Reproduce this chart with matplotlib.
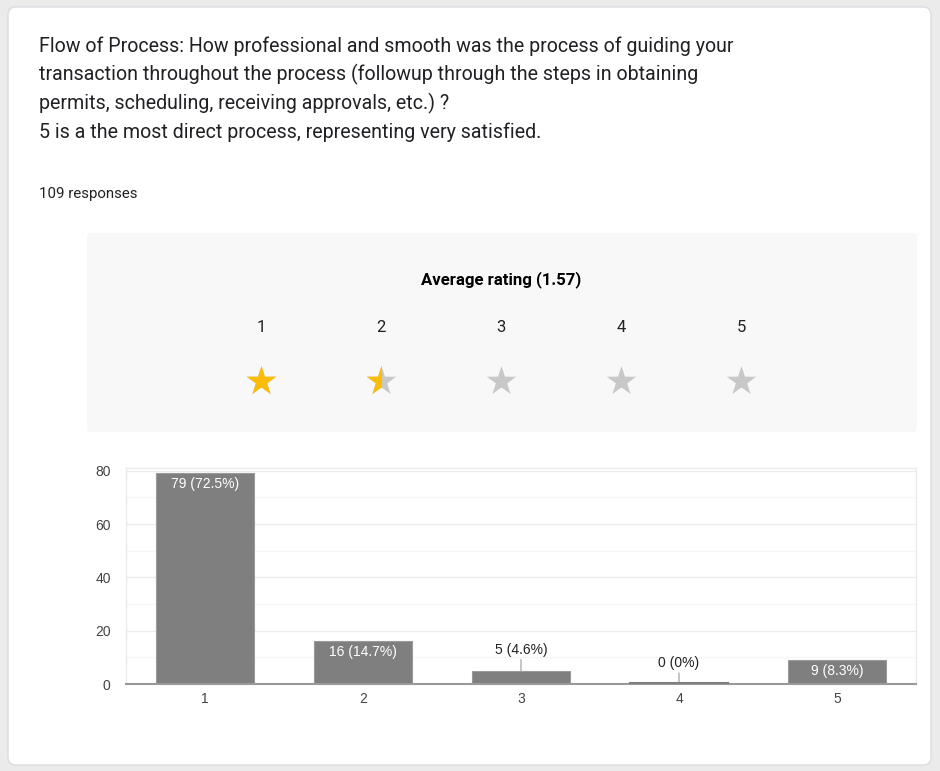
import matplotlib
matplotlib.use("Agg")
import matplotlib.pyplot as plt
from matplotlib.patches import FancyBboxPatch, Rectangle
from matplotlib.ticker import MultipleLocator

# ---- data ----
title_lines = [
    "Flow of Process: How professional and smooth was the process of guiding your",
    "transaction throughout the process (followup through the steps in obtaining",
    "permits, scheduling, receiving approvals, etc.) ?",
    "5 is a the most direct process, representing very satisfied.",
]
responses_text = "109 responses"
average_rating = 1.57
rating_levels = [1, 2, 3, 4, 5]
star_fill = [1.0, 0.5, 0.0, 0.0, 0.0]
counts = [79, 16, 5, 0, 9]
percents = ["72.5%", "14.7%", "4.6%", "0%", "8.3%"]
y_ticks = [0, 20, 40, 60, 80]

W, H = 940, 771
fig = plt.figure(figsize=(W / 100, H / 100), dpi=100)
fig.patch.set_facecolor("#ebebeb")
plt.rcParams["font.family"] = ["Roboto", "DejaVu Sans"]
CHART_FONT = ["Liberation Sans", "DejaVu Sans"]

# overlay axes in pixel coordinates (y downward)
ov = fig.add_axes([0, 0, 1, 1])
ov.set_xlim(0, W)
ov.set_ylim(H, 0)
ov.axis("off")

card = FancyBboxPatch((8, 7), 923, 758, boxstyle="round,pad=0,rounding_size=8",
                      facecolor="white", edgecolor="#dadce0", linewidth=1)
ov.add_patch(card)
panel = FancyBboxPatch((87, 233), 830, 199, boxstyle="round,pad=0,rounding_size=4",
                       facecolor="#f8f8f8", edgecolor="none")
ov.add_patch(panel)

for i, line in enumerate(title_lines):
    ov.text(39, 46 + i * 28.7, line, fontsize=14.1, color="#202124",
            ha="left", va="center")
ov.text(39, 194, responses_text, fontsize=10.8, color="#202124", ha="left", va="center")

ov.text(501, 280, f"Average rating ({average_rating})", fontsize=12.1, fontweight="bold",
        color="#000000", ha="center", va="center")

star_x0, star_dx = 261, 120
for i, (lvl, f) in enumerate(zip(rating_levels, star_fill)):
    cx = star_x0 + i * star_dx
    ov.text(cx, 327, str(lvl), fontsize=12, color="#202124", ha="center", va="center")
    ov.scatter([cx], [381], marker="*", s=500, color="#c8c8c8", linewidths=0, zorder=3)
    if f > 0:
        sc = ov.scatter([cx], [381], marker="*", s=500, color="#fbbc04", linewidths=0, zorder=4)
        clip = Rectangle((cx - 20, 360), 40 * f, 40, transform=ov.transData)
        sc.set_clip_path(clip)

# ---- bar chart ----
left, right, top, bottom = 126, 916, 468, 684
ax = fig.add_axes([left / W, 1 - bottom / H, (right - left) / W, (bottom - top) / H])
ax.set_facecolor("white")
bars = ax.bar(rating_levels, counts, width=0.615, color="#7f7f7f",
              edgecolor="#9a9a9a", linewidth=0.8, zorder=3)
ax.set_xlim(0.5, 5.5)
ax.set_ylim(0, 81)
ax.set_yticks(y_ticks)
ax.yaxis.set_minor_locator(MultipleLocator(10))
ax.grid(axis="y", which="major", color="#ebebeb", linewidth=1, zorder=0)
ax.grid(axis="y", which="minor", color="#f5f5f5", linewidth=1, zorder=0)
ax.set_xticks(rating_levels)
ax.tick_params(axis="both", which="both", length=0, labelsize=10, labelcolor="#444444")
ax.tick_params(axis="x", pad=6)
ax.tick_params(axis="y", pad=11)
for lab in ax.get_xticklabels() + ax.get_yticklabels():
    lab.set_family(CHART_FONT)
for s in ["top", "left", "right"]:
    ax.spines[s].set_color("#ebebeb")
    ax.spines[s].set_linewidth(1)
ax.spines["bottom"].set_color("#999999")
ax.spines["bottom"].set_linewidth(1.5)
ax.spines["bottom"].set_zorder(5)

for x, c, p in zip(rating_levels, counts, percents):
    label = f"{c} ({p})"
    if c >= 8:
        ax.annotate(label, (x, c), xytext=(0, -8), textcoords="offset points",
                    ha="center", va="center", fontsize=10, color="white", zorder=6,
                    family=CHART_FONT)
    else:
        ax.annotate(label, (x, c), xytext=(0, 15), textcoords="offset points",
                    ha="center", va="center", fontsize=10, color="#222222", zorder=6,
                    family=CHART_FONT,
                    arrowprops=dict(arrowstyle="-", color="#999999", lw=0.8,
                                    shrinkA=0, shrinkB=0))
        if c == 0:
            ax.plot([x - 0.3075, x + 0.3075], [0.3, 0.3], color="#7f7f7f", lw=1.5, zorder=6)

fig.savefig("out.png", dpi=100, facecolor=fig.get_facecolor())
